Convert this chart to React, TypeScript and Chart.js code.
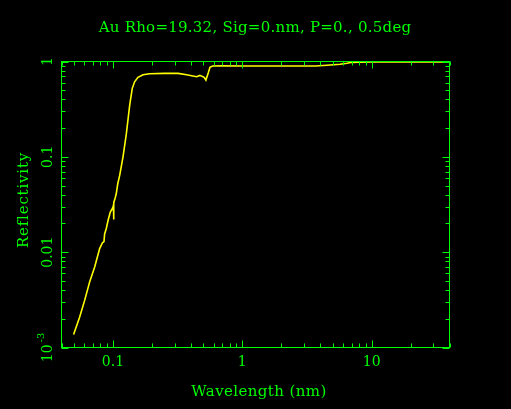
import { useEffect, useRef } from "react";
import { Chart, registerables } from "chart.js";

Chart.register(...registerables);

// (nm, reflectivity)
const wavelength = [
  0.0496, 0.0552, 0.0604, 0.066, 0.0722, 0.0789, 0.0828, 0.0852, 0.0862, 0.0888,
  0.092, 0.0954, 0.098, 0.1, 0.1008, 0.1012, 0.1016, 0.104, 0.106, 0.109, 0.1127,
  0.1196, 0.127, 0.1347, 0.141, 0.147, 0.156, 0.171, 0.192, 0.25, 0.319, 0.371,
  0.443, 0.47, 0.507, 0.523, 0.546, 0.562, 0.59, 0.7, 1, 2, 3.7, 4.5, 5.7, 6.44,
  7.05, 8, 10, 20, 40,
];
const reflectivity = [
  0.00137, 0.00208, 0.00312, 0.00487, 0.00699, 0.0109, 0.0125, 0.0129, 0.0155,
  0.0177, 0.022, 0.0264, 0.028, 0.0298, 0.031, 0.022, 0.033, 0.037, 0.041, 0.0525,
  0.064, 0.1, 0.176, 0.349, 0.523, 0.613, 0.682, 0.726, 0.745, 0.751, 0.751, 0.726,
  0.692, 0.715, 0.682, 0.639, 0.762, 0.869, 0.897, 0.9, 0.897, 0.897, 0.897, 0.912,
  0.934, 0.957, 0.98, 0.985, 0.99, 0.99, 0.99,
];

const xTickValues = [0.1, 1, 10];
const xTickLabels = ["0.1", "1", "10"];
const yTickValues = [0.001, 0.01, 0.1, 1];
const yTickLabels = ["10", "0.01", "0.1", "1"];
const yTickPowers = ["-3", "", "", ""];

const titleText = "Au Rho=19.32, Sig=0.nm, P=0., 0.5deg";
const xTitle = "Wavelength (nm)";
const yTitle = "Reflectivity";

const GREEN = "#00ff00";
const YELLOW = "#ffff00";
const FONT = "'DejaVu Serif'";

// 1..9 for ticks at n*10^k, 0 otherwise (drops the 1.5 ticks chart.js adds)
const mantissa = (v: number) => {
  const m = v / Math.pow(10, Math.floor(Math.log10(v) + 1e-9));
  return Math.abs(m - Math.round(m)) < 1e-6 ? Math.round(m) : 0;
};

const framePlugin = {
  id: "frame",
  afterDraw(chart: any) {
    const { ctx, chartArea: a } = chart;
    const xs = chart.scales.x;
    const ys = chart.scales.y;
    ctx.save();
    ctx.strokeStyle = GREEN;
    ctx.lineWidth = 1;
    ctx.strokeRect(a.left, a.top, a.right - a.left, a.bottom - a.top);

    ctx.beginPath();
    xs.ticks.forEach((t: any) => {
      const m = mantissa(t.value);
      if (!m) return;
      const len = m === 1 ? 7 : 4;
      const px = Math.round(xs.getPixelForValue(t.value)) + 0.5;
      ctx.moveTo(px, a.bottom);
      ctx.lineTo(px, a.bottom - len);
      ctx.moveTo(px, a.top);
      ctx.lineTo(px, a.top + len);
    });
    ys.ticks.forEach((t: any) => {
      const m = mantissa(t.value);
      if (!m) return;
      const len = m === 1 ? 7 : 4;
      const py = Math.round(ys.getPixelForValue(t.value)) + 0.5;
      ctx.moveTo(a.left, py);
      ctx.lineTo(a.left + len, py);
      ctx.moveTo(a.right, py);
      ctx.lineTo(a.right - len, py);
    });
    ctx.stroke();

    ctx.fillStyle = GREEN;
    ctx.textBaseline = "alphabetic";
    ctx.textAlign = "center";

    // title
    ctx.font = `15px ${FONT}`;
    ctx.letterSpacing = "0.25px";
    ctx.fillText(titleText, 255, 32);

    // x tick labels
    ctx.font = `14px ${FONT}`;
    ctx.letterSpacing = "0px";
    xTickValues.forEach((v, i) => {
      ctx.fillText(xTickLabels[i], xs.getPixelForValue(v), 366);
    });

    // x axis title
    ctx.font = `15px ${FONT}`;
    ctx.letterSpacing = "0.4px";
    ctx.fillText(xTitle, 259, 396);

    // y axis title, rotated
    ctx.save();
    ctx.translate(28, 200);
    ctx.rotate(-Math.PI / 2);
    ctx.letterSpacing = "0.8px";
    ctx.fillText(yTitle, 0, 0);
    ctx.restore();
    ctx.letterSpacing = "0px";

    // y tick labels, rotated, with a raised exponent where needed
    yTickValues.forEach((v, i) => {
      const py = ys.getPixelForValue(v);
      ctx.save();
      ctx.translate(52, py);
      ctx.rotate(-Math.PI / 2);
      ctx.textAlign = "left";
      ctx.font = `14px ${FONT}`;
      const w = ctx.measureText(yTickLabels[i]).width;
      let ws = 0;
      if (yTickPowers[i]) {
        ctx.font = `10px ${FONT}`;
        ws = ctx.measureText(yTickPowers[i]).width + 2;
      }
      const start = -(w + ws) / 2;
      ctx.font = `14px ${FONT}`;
      ctx.fillText(yTickLabels[i], start, 0);
      if (yTickPowers[i]) {
        ctx.font = `10px ${FONT}`;
        ctx.fillText(yTickPowers[i], start + w + 2, -8);
      }
      ctx.restore();
    });
    ctx.restore();
  },
};

const ReflectivityChart = () => {
  const chartRef = useRef<HTMLCanvasElement>(null);
  const chartInstance = useRef<Chart | null>(null);

  useEffect(() => {
    if (!chartRef.current) return;
    if (chartInstance.current) chartInstance.current.destroy();

    chartInstance.current = new Chart(chartRef.current, {
      type: "line",
      data: {
        datasets: [
          {
            data: wavelength.map((w, i) => ({ x: w, y: reflectivity[i] })),
            borderColor: YELLOW,
            borderWidth: 1.6,
            pointRadius: 0,
            tension: 0,
            fill: false,
          },
        ],
      },
      options: {
        responsive: true,
        maintainAspectRatio: false,
        animation: false,
        layout: { padding: { left: 61.5, top: 61.5, right: 61.5, bottom: 61.5 } },
        plugins: {
          legend: { display: false },
          tooltip: { enabled: false },
        },
        scales: {
          x: {
            type: "logarithmic",
            display: false,
            min: 0.04,
            max: 40,
            ticks: { autoSkip: false },
          },
          y: {
            type: "logarithmic",
            display: false,
            min: 0.001,
            max: 1,
            ticks: { autoSkip: false },
          },
        },
      },
      plugins: [framePlugin],
    });

    return () => {
      if (chartInstance.current) {
        chartInstance.current.destroy();
        chartInstance.current = null;
      }
    };
  }, []);

  return (
    <div
      style={{
        position: "fixed",
        left: 0,
        top: 0,
        width: "511px",
        height: "409px",
        background: "#000",
      }}
    >
      <canvas ref={chartRef}></canvas>
    </div>
  );
};

export default function App() {
  return <ReflectivityChart />;
}
